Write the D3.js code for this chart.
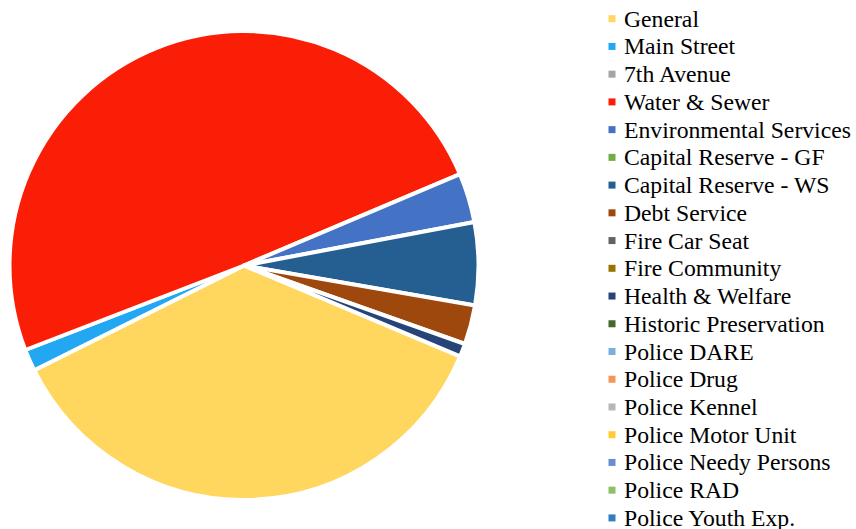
<!DOCTYPE html>
<html>
<head>
<meta charset="utf-8">
<script src="https://cdn.jsdelivr.net/npm/d3@7"></script>
<style>
  html, body { margin: 0; padding: 0; background: #ffffff; }
  svg { display: block; }
  .legend-label { font-family: "Liberation Serif", "Times New Roman", Times, serif; font-size: 23.7px; fill: #000000; }
</style>
</head>
<body>
<svg id="chart" width="856" height="529"></svg>
<script>
// Fund categories, shown in the legend in this order
const categories = [
  "General", "Main Street", "7th Avenue", "Water & Sewer", "Environmental Services",
  "Capital Reserve - GF", "Capital Reserve - WS", "Debt Service", "Fire Car Seat",
  "Fire Community", "Health & Welfare", "Historic Preservation", "Police DARE",
  "Police Drug", "Police Kennel", "Police Motor Unit", "Police Needy Persons",
  "Police RAD", "Police Youth Exp."
];

// Share of the total for each fund (percent)
const shares = [
  36.3, 1.5, 0, 49.5, 3.4,
  0, 5.7, 2.7, 0,
  0, 0.9, 0, 0,
  0, 0, 0, 0,
  0, 0
];

// Slice / legend colours
const colors = [
  "#FFD75E", "#22A7F2", "#A5A5A5", "#FA1E06", "#4472C4",
  "#70AD47", "#255E91", "#9E480E", "#636363",
  "#997300", "#264478", "#43682B", "#7CAFDD",
  "#F1975A", "#B7B7B7", "#FFCD33", "#698ED0",
  "#8CC168", "#327DC2"
];

const data = categories.map((name, i) => ({ name, value: shares[i], color: colors[i] }));

const svg = d3.select("#chart");

// Pie
const cx = 244, cy = 265.5, radius = 234.5;
const firstAngle = 112.8 * Math.PI / 180;

const pie = d3.pie()
  .sort(null)
  .value(d => d.value)
  .startAngle(firstAngle)
  .endAngle(firstAngle + 2 * Math.PI);

const arc = d3.arc().innerRadius(0).outerRadius(radius);

const g = svg.append("g").attr("transform", `translate(${cx},${cy})`);

g.selectAll("path")
  .data(pie(data).filter(d => d.data.value > 0))
  .join("path")
  .attr("d", arc)
  .attr("fill", d => d.data.color)
  .attr("stroke", "#ffffff")
  .attr("stroke-width", 4)
  .attr("stroke-linejoin", "round");

// Legend
const legendY = d3.scalePoint()
  .domain(categories)
  .range([18.7, 517.9]);

const legend = svg.append("g");

const item = legend.selectAll("g")
  .data(data)
  .join("g")
  .attr("transform", d => `translate(0,${legendY(d.name)})`);

item.append("rect")
  .attr("x", 608.5)
  .attr("y", -3.5)
  .attr("width", 7)
  .attr("height", 7)
  .attr("fill", d => d.color);

item.append("text")
  .attr("class", "legend-label")
  .attr("x", 624)
  .attr("y", 8)
  .text(d => d.name);
</script>
</body>
</html>
